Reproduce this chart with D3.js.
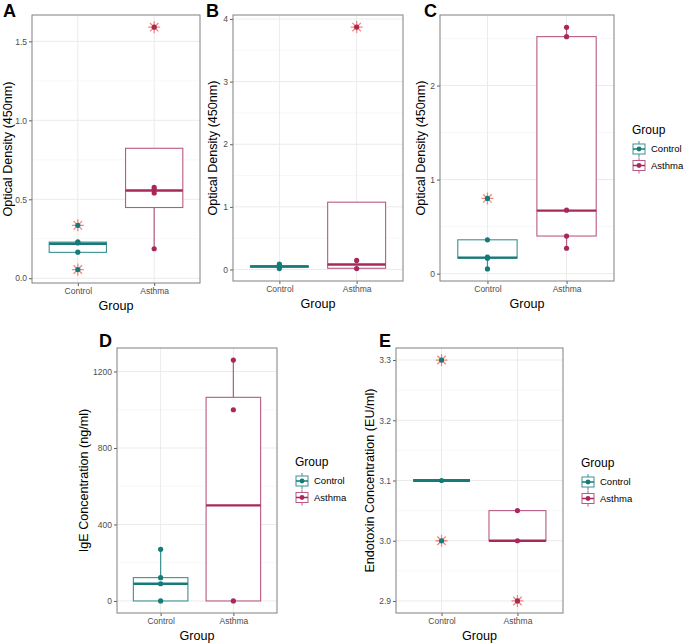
<!DOCTYPE html>
<html><head><meta charset="utf-8">
<script src="https://cdn.jsdelivr.net/npm/d3@7"></script>
<style>body{margin:0;background:#fff}svg{display:block}text{font-family:"Liberation Sans",Arial,sans-serif}</style>
</head><body>
<svg id="chart" width="685" height="643"></svg>
<script>
// ---------- data ----------
const groups = ["Control", "Asthma"];
const legendTitle = "Group";

// Panel A (Optical Density)
const A_ctrlPts = [0.23, 0.224, 0.165];
const A_asthPts = [0.575, 0.56, 0.54, 0.187];
const A_ctrlOut = [0.335, 0.055];
const A_asthOut = [1.59];
const A_q1 = [0.164, 0.448], A_med = [0.219, 0.556], A_q3 = [0.229, 0.823];
const A_wlo = [0.164, 0.187], A_whi = [0.229, 0.823];
const A_ticks = [0, 0.5, 1.0, 1.5], A_minor = [0.25, 0.75, 1.25];
const A_tickLabels = ["0.0", "0.5", "1.0", "1.5"];

// Panel B (Optical Density)
const B_ctrlPts = [0.085, 0.05, 0.04, 0.015];
const B_asthPts = [0.145, 0.015];
const B_ctrlOut = [];
const B_asthOut = [3.87];
const B_q1 = [0.035, 0.02], B_med = [0.05, 0.08], B_q3 = [0.06, 1.075];
const B_wlo = [0.035, 0.02], B_whi = [0.06, 1.075];
const B_ticks = [0, 1, 2, 3, 4], B_minor = [0.5, 1.5, 2.5, 3.5];
const B_tickLabels = ["0", "1", "2", "3", "4"];

// Panel C (Optical Density)
const C_ctrlPts = [0.36, 0.175, 0.165, 0.05];
const C_asthPts = [2.62, 2.52, 0.675, 0.4, 0.27];
const C_ctrlOut = [0.80];
const C_asthOut = [];
const C_q1 = [0.165, 0.4], C_med = [0.17, 0.67], C_q3 = [0.36, 2.52];
const C_wlo = [0.05, 0.27], C_whi = [0.36, 2.62];
const C_ticks = [0, 1, 2], C_minor = [0.5, 1.5, 2.5];
const C_tickLabels = ["0", "1", "2"];

// Panel D (IgE)
const D_ctrlPts = [270, 122, 90, 0];
const D_asthPts = [1260, 1000, 0];
const D_ctrlOut = [];
const D_asthOut = [];
const D_q1 = [0, 0], D_med = [90, 500], D_q3 = [122, 1065];
const D_wlo = [0, 0], D_whi = [270, 1260];
const D_ticks = [0, 400, 800, 1200], D_minor = [200, 600, 1000];
const D_tickLabels = ["0", "400", "800", "1200"];

// Panel E (Endotoxin)
const E_ctrlPts = [3.1];
const E_asthPts = [3.05, 3.0];
const E_ctrlOut = [3.3, 3.0];
const E_asthOut = [2.9];
const E_q1 = [3.1, 3.0], E_med = [3.1, 3.0], E_q3 = [3.1, 3.05];
const E_wlo = [3.1, 3.0], E_whi = [3.1, 3.05];
const E_ticks = [2.9, 3.0, 3.1, 3.2, 3.3], E_minor = [2.95, 3.05, 3.15, 3.25];
const E_tickLabels = ["2.9", "3.0", "3.1", "3.2", "3.3"];

// ---------- styling / layout ----------
const colors = {Control: "#157A78", Asthma: "#A8285A"};
const boxColors = {Control: "#3C918F", Asthma: "#B85A83"};
const starColor = "#EE8A7E";

const panels = [
  {letter: "A", x0: 32, x1: 200, y0: 15, y1: 283, dom: [-0.03, 1.667], lx: 3, ly: 17, tx: 8,
   ylab: "Optical Density (450nm)", pts: [A_ctrlPts, A_asthPts], out: [A_ctrlOut, A_asthOut],
   q1: A_q1, med: A_med, q3: A_q3, wlo: A_wlo, whi: A_whi, ticks: A_ticks, minor: A_minor, tl: A_tickLabels, legend: false},
  {letter: "B", x0: 233, x1: 403, y0: 15, y1: 281, dom: [-0.183, 4.063], lx: 206, ly: 17, tx: 213,
   ylab: "Optical Density (450nm)", pts: [B_ctrlPts, B_asthPts], out: [B_ctrlOut, B_asthOut],
   q1: B_q1, med: B_med, q3: B_q3, wlo: B_wlo, whi: B_whi, ticks: B_ticks, minor: B_minor, tl: B_tickLabels, legend: false},
  {letter: "C", x0: 440, x1: 614, y0: 15, y1: 281, dom: [-0.078, 2.75], lx: 424, ly: 17, tx: 421,
   ylab: "Optical Density (450nm)", pts: [C_ctrlPts, C_asthPts], out: [C_ctrlOut, C_asthOut],
   q1: C_q1, med: C_med, q3: C_q3, wlo: C_wlo, whi: C_whi, ticks: C_ticks, minor: C_minor, tl: C_tickLabels, legend: true, legX: 632, legY: 130},
  {letter: "D", x0: 117, x1: 277, y0: 348, y1: 613, dom: [-63, 1323], lx: 99, ly: 347, tx: 84,
   ylab: "IgE Concentration (ng/ml)", pts: [D_ctrlPts, D_asthPts], out: [D_ctrlOut, D_asthOut],
   q1: D_q1, med: D_med, q3: D_q3, wlo: D_wlo, whi: D_whi, ticks: D_ticks, minor: D_minor, tl: D_tickLabels, legend: true, legX: 295, legY: 462},
  {letter: "E", x0: 396, x1: 563, y0: 348, y1: 613, dom: [2.88, 3.32], lx: 379, ly: 347, tx: 370,
   ylab: "Endotoxin Concentration (EU/ml)", pts: [E_ctrlPts, E_asthPts], out: [E_ctrlOut, E_asthOut],
   q1: E_q1, med: E_med, q3: E_q3, wlo: E_wlo, whi: E_whi, ticks: E_ticks, minor: E_minor, tl: E_tickLabels, legend: true, legX: 581, legY: 463}
];

const svg = d3.select("#chart");

function star(g, cx, cy, r) {
  const a = r * Math.SQRT1_2;
  const d = `M${cx - r},${cy}L${cx + r},${cy}M${cx},${cy - r}L${cx},${cy + r}` +
            `M${cx - a},${cy - a}L${cx + a},${cy + a}M${cx - a},${cy + a}L${cx + a},${cy - a}`;
  g.append("path").attr("d", d).attr("stroke", starColor).attr("stroke-width", 1.3).attr("fill", "none");
}

function legendKey(g, x, y, col, bcol) {
  g.append("line").attr("x1", x + 7).attr("x2", x + 7).attr("y1", y - 8).attr("y2", y + 8)
    .attr("stroke", bcol).attr("stroke-width", 1);
  g.append("rect").attr("x", x + 1).attr("y", y - 5).attr("width", 12).attr("height", 10)
    .attr("fill", "#fff").attr("stroke", bcol).attr("stroke-width", 1);
  g.append("line").attr("x1", x + 1).attr("x2", x + 13).attr("y1", y).attr("y2", y)
    .attr("stroke", col).attr("stroke-width", 1.5);
  g.append("circle").attr("cx", x + 7).attr("cy", y).attr("r", 2.4).attr("fill", col);
}

panels.forEach(p => {
  const g = svg.append("g");
  const x = d3.scalePoint().domain(groups).range([p.x0, p.x1]).padding(0.6);
  const y = d3.scaleLinear().domain(p.dom).range([p.y1, p.y0]);
  const bw = x.step() * 0.75;

  // grid
  g.selectAll(".minor").data(p.minor).join("line")
    .attr("x1", p.x0).attr("x2", p.x1).attr("y1", d => y(d)).attr("y2", d => y(d))
    .attr("stroke", "#F4F4F4").attr("stroke-width", 0.6);
  g.selectAll(".major").data(p.ticks).join("line")
    .attr("x1", p.x0).attr("x2", p.x1).attr("y1", d => y(d)).attr("y2", d => y(d))
    .attr("stroke", "#EBEBEB").attr("stroke-width", 1);
  g.selectAll(".vmajor").data(groups).join("line")
    .attr("x1", d => x(d)).attr("x2", d => x(d)).attr("y1", p.y0).attr("y2", p.y1)
    .attr("stroke", "#EBEBEB").attr("stroke-width", 1);

  // axes
  const yAxis = d3.axisLeft(y).tickValues(p.ticks).tickSize(3).tickPadding(2)
    .tickFormat((d, i) => p.tl[i]);
  const ya = g.append("g").attr("transform", `translate(${p.x0},0)`).call(yAxis);
  const xAxis = d3.axisBottom(x).tickSize(3).tickPadding(2);
  const xa = g.append("g").attr("transform", `translate(0,${p.y1})`).call(xAxis);
  [ya, xa].forEach(a => {
    a.select(".domain").remove();
    a.selectAll(".tick line").attr("stroke", "#333").attr("stroke-width", 0.8);
    a.selectAll(".tick text").attr("fill", "#4D4D4D").style("font-size", "8.5px");
  });

  // boxes
  groups.forEach((grp, i) => {
    const cx = x(grp), col = colors[grp], bcol = boxColors[grp];
    g.append("line").attr("x1", cx).attr("x2", cx).attr("y1", y(p.q3[i])).attr("y2", y(p.whi[i]))
      .attr("stroke", bcol).attr("stroke-width", 1.2);
    g.append("line").attr("x1", cx).attr("x2", cx).attr("y1", y(p.q1[i])).attr("y2", y(p.wlo[i]))
      .attr("stroke", bcol).attr("stroke-width", 1.2);
    const h = y(p.q1[i]) - y(p.q3[i]);
    if (h > 0.5) {
      g.append("rect").attr("x", cx - bw / 2).attr("y", y(p.q3[i])).attr("width", bw).attr("height", h)
        .attr("fill", "#fff").attr("stroke", bcol).attr("stroke-width", 1.1);
    }
    g.append("line").attr("x1", cx - bw / 2).attr("x2", cx + bw / 2)
      .attr("y1", y(p.med[i])).attr("y2", y(p.med[i]))
      .attr("stroke", col).attr("stroke-width", h > 0.5 ? 2.4 : 2.8);
    p.out[i].forEach(v => star(g, cx, y(v), 6));
    p.pts[i].concat(p.out[i]).forEach(v => {
      g.append("circle").attr("cx", cx).attr("cy", y(v)).attr("r", 2.6).attr("fill", col);
    });
  });

  // panel border
  g.append("rect").attr("x", p.x0).attr("y", p.y0).attr("width", p.x1 - p.x0).attr("height", p.y1 - p.y0)
    .attr("fill", "none").attr("stroke", "#808080").attr("stroke-width", 1);

  // titles
  g.append("text").attr("x", (p.x0 + p.x1) / 2).attr("y", p.y1 + 27).attr("text-anchor", "middle")
    .style("font-size", "12.6px").attr("fill", "#000").text("Group");
  g.append("text").attr("transform", `translate(${p.tx},${(p.y0 + p.y1) / 2}) rotate(-90)`)
    .attr("text-anchor", "middle").attr("dy", "0.35em").style("font-size", "12.6px").attr("fill", "#000").text(p.ylab);
  g.append("text").attr("x", p.lx).attr("y", p.ly).style("font-size", "18px").style("font-weight", "bold")
    .attr("fill", "#000").text(p.letter);

  // legend
  if (p.legend) {
    const lg = g.append("g");
    lg.append("text").attr("x", p.legX).attr("y", p.legY).attr("dy", "0.35em").style("font-size", "12px").text(legendTitle);
    groups.forEach((grp, i) => {
      const ky = p.legY + 19 + i * 16.5;
      legendKey(lg, p.legX, ky, colors[grp], boxColors[grp]);
      lg.append("text").attr("x", p.legX + 19).attr("y", ky).attr("dy", "0.35em")
        .style("font-size", "9.5px").text(grp);
    });
  }
});
</script>
</body></html>
